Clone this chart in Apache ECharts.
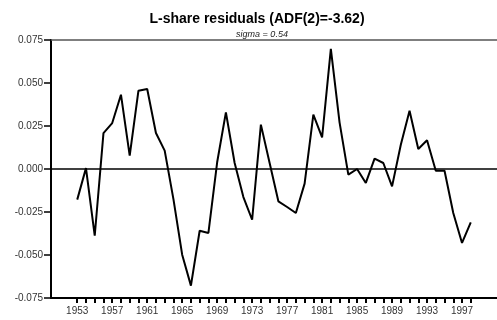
<!DOCTYPE html>
<html>
<head>
<meta charset="utf-8">
<script src="https://cdn.jsdelivr.net/npm/echarts@6/dist/echarts.min.js"></script>
<style>html,body{margin:0;padding:0;background:#fff}#c{width:497px;height:320px}</style>
</head>
<body>
<div id="c"></div>
<script>
const years = [1953,1954,1955,1956,1957,1958,1959,1960,1961,1962,1963,1964,1965,1966,1967,1968,1969,1970,1971,1972,1973,1974,1975,1976,1977,1978,1979,1980,1981,1982,1983,1984,1985,1986,1987,1988,1989,1990,1991,1992,1993,1994,1995,1996,1997,1998];
const residuals = [-0.0178,0.0005,-0.0388,0.0209,0.0267,0.0432,0.0078,0.0455,0.0465,0.0209,0.0107,-0.0175,-0.0498,-0.0678,-0.0359,-0.0372,0.0039,0.0329,0.0035,-0.0163,-0.0295,0.0258,0.0035,-0.0188,-0.0221,-0.0256,-0.0085,0.0316,0.0184,0.0698,0.0270,-0.0033,0.0000,-0.0081,0.0060,0.0035,-0.0101,0.0141,0.0339,0.0116,0.0167,-0.0010,-0.0010,-0.0256,-0.0430,-0.0310];
const xTickLabels = [1953,1957,1961,1965,1969,1973,1977,1981,1985,1989,1993,1997];
const titleText = 'L-share residuals (ADF(2)=-3.62)';
const subText = 'sigma = 0.54';

const FONT = '"Liberation Sans", Arial, sans-serif';
const chart = echarts.init(document.getElementById('c'), null, {renderer: 'canvas'});
chart.setOption({
  animation: false,
  title: [
    {text: titleText, left: 252, top: 7, textAlign: 'center',
     textStyle: {fontFamily: FONT, fontSize: 14, fontWeight: 'bold', color: '#000'}},
    {text: subText, left: 257, top: 25, textAlign: 'center',
     textStyle: {fontFamily: FONT, fontSize: 9, fontStyle: 'italic', fontWeight: 'normal', color: '#222'}}
  ],
  grid: {left: 51, right: 0, top: 40, bottom: 22, containLabel: false},
  xAxis: [{
    type: 'value', min: 1950, max: 2001, position: 'bottom',
    axisLine: {show: true, onZero: false, lineStyle: {color: '#000', width: 2}},
    axisTick: {show: true, inside: false, length: 5, customValues: years, lineStyle: {color: '#000', width: 2}},
    axisLabel: {customValues: xTickLabels, margin: 8, fontFamily: FONT, fontSize: 10, color: '#333', formatter: v => String(v)},
    splitLine: {show: false}
  }, {
    type: 'value', min: 1950, max: 2001, position: 'top',
    axisLine: {show: true, onZero: false, lineStyle: {color: '#555', width: 1.5}},
    axisTick: {show: false}, axisLabel: {show: false}, splitLine: {show: false}
  }],
  yAxis: {
    type: 'value', min: -0.075, max: 0.075, interval: 0.025,
    axisLine: {show: true, onZero: false, lineStyle: {color: '#000', width: 2}},
    axisTick: {show: true, inside: false, length: 7, lineStyle: {color: '#000', width: 1.5}},
    axisLabel: {margin: 8, fontFamily: FONT, fontSize: 10, color: '#333', formatter: v => v.toFixed(3)},
    splitLine: {show: false}
  },
  series: [{
    type: 'line',
    xAxisIndex: 0,
    data: years.map((y, i) => [y, residuals[i]]),
    showSymbol: false,
    lineStyle: {color: '#000', width: 2},
    markLine: {
      silent: true, symbol: 'none', label: {show: false},
      data: [
        {yAxis: 0, lineStyle: {color: '#000', width: 1.5, type: 'solid'}}
      ]
    }
  }]
});
</script>
</body>
</html>
